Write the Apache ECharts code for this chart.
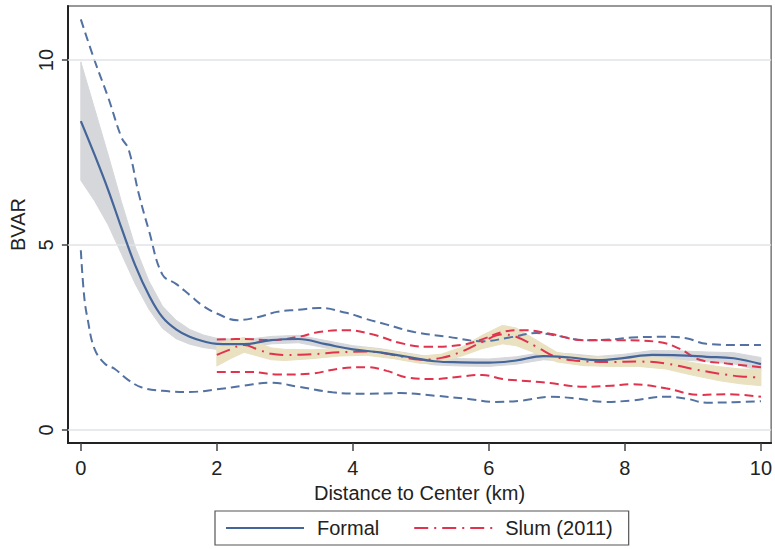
<!DOCTYPE html>
<html>
<head>
<meta charset="utf-8">
<script src="https://cdn.jsdelivr.net/npm/echarts@6.0.0/dist/echarts.min.js"></script>
<style>
  html, body { margin: 0; padding: 0; background: #fff; }
  #chart { width: 775px; height: 549px; }
</style>
</head>
<body>
<div id="chart"></div>
<script>
"use strict";

// Formal: mean curve + confidence band (same x grid)
const formalX    = [0, 0.2, 0.4, 0.6, 0.8, 1.0, 1.2, 1.4, 1.6, 1.8, 2.0, 2.4, 2.8, 3.2, 3.6, 4.0, 4.4, 4.8, 5.2, 5.6, 6.0, 6.4, 6.8, 7.2, 7.6, 8.0, 8.4, 8.8, 9.2, 9.6, 10];
const formalMean = [8.35, 7.45, 6.5, 5.45, 4.45, 3.65, 3.05, 2.72, 2.52, 2.4, 2.33, 2.32, 2.43, 2.46, 2.32, 2.18, 2.1, 1.98, 1.86, 1.83, 1.82, 1.88, 2.0, 1.96, 1.89, 1.95, 2.03, 2.02, 1.98, 1.94, 1.78];
const formalHi   = [9.95, 8.7, 7.45, 6.15, 4.95, 4.03, 3.35, 2.97, 2.72, 2.57, 2.48, 2.44, 2.53, 2.56, 2.42, 2.28, 2.2, 2.08, 1.96, 1.93, 1.92, 1.98, 2.1, 2.06, 1.99, 2.05, 2.15, 2.14, 2.11, 2.09, 1.96];
const formalLo   = [6.75, 6.2, 5.55, 4.75, 3.95, 3.27, 2.75, 2.47, 2.32, 2.23, 2.18, 2.2, 2.33, 2.36, 2.22, 2.08, 2.0, 1.88, 1.76, 1.73, 1.72, 1.78, 1.9, 1.86, 1.79, 1.85, 1.91, 1.9, 1.85, 1.79, 1.6];

// Formal: dashed upper / lower curves
const formalUpX = [0, 0.2, 0.4, 0.6, 0.7, 0.85, 1.0, 1.2, 1.4, 1.6, 1.8, 2.0, 2.3, 2.6, 2.9, 3.2, 3.5, 3.9, 4.2, 4.5, 4.9, 5.4, 5.9, 6.3, 6.7, 7.0, 7.4, 7.8, 8.1, 8.6, 8.9, 9.2, 9.6, 10];
const formalUp  = [11.1, 10.0, 9.0, 7.9, 7.6, 6.4, 5.4, 4.2, 3.95, 3.65, 3.35, 3.15, 2.97, 3.05, 3.2, 3.25, 3.3, 3.17, 3.0, 2.85, 2.65, 2.52, 2.4, 2.5, 2.62, 2.55, 2.43, 2.45, 2.5, 2.52, 2.48, 2.33, 2.3, 2.3];
const formalDnX = [0, 0.05, 0.1, 0.2, 0.35, 0.5, 0.7, 0.9, 1.2, 1.6, 2.0, 2.4, 2.8, 3.2, 3.7, 4.2, 4.7, 5.2, 5.7, 6.1, 6.5, 6.9, 7.3, 7.7, 8.1, 8.6, 8.9, 9.2, 9.6, 10];
const formalDn  = [4.86, 3.6, 3.0, 2.2, 1.8, 1.65, 1.35, 1.15, 1.06, 1.03, 1.1, 1.2, 1.28, 1.17, 1.02, 0.98, 1.0, 0.93, 0.84, 0.76, 0.8, 0.9, 0.85, 0.76, 0.8, 0.9, 0.85, 0.74, 0.75, 0.78];

// Slum (2011): mean curve + confidence band
const slumX    = [2.0, 2.2, 2.4, 2.6, 2.8, 3.0, 3.4, 3.8, 4.2, 4.6, 5.0, 5.3, 5.6, 5.9, 6.2, 6.4, 6.7, 7.0, 7.4, 7.8, 8.2, 8.6, 9.0, 9.4, 9.7, 10];
const slumMean = [2.03, 2.18, 2.3, 2.18, 2.06, 2.03, 2.05, 2.1, 2.12, 2.03, 1.9, 1.95, 2.12, 2.38, 2.58, 2.52, 2.25, 1.97, 1.86, 1.84, 1.85, 1.8, 1.65, 1.52, 1.45, 1.42];
const slumHi   = [2.33, 2.43, 2.5, 2.36, 2.22, 2.18, 2.17, 2.2, 2.22, 2.13, 2.0, 2.05, 2.24, 2.56, 2.83, 2.76, 2.43, 2.1, 1.98, 1.96, 1.98, 1.95, 1.82, 1.71, 1.65, 1.64];
const slumLo   = [1.73, 1.93, 2.1, 2.0, 1.9, 1.88, 1.93, 2.0, 2.02, 1.93, 1.8, 1.85, 2.0, 2.2, 2.33, 2.28, 2.07, 1.84, 1.74, 1.72, 1.72, 1.65, 1.48, 1.33, 1.25, 1.2];

// Slum (2011): dashed upper / lower curves
const slumUpX = [2.0, 2.4, 2.8, 3.2, 3.5, 3.9, 4.3, 4.7, 5.1, 5.6, 5.9, 6.2, 6.5, 6.9, 7.4, 7.9, 8.5, 8.8, 9.1, 9.5, 10];
const slumUp  = [2.45, 2.46, 2.43, 2.52, 2.65, 2.7, 2.58, 2.35, 2.25, 2.3, 2.45, 2.65, 2.7, 2.6, 2.43, 2.43, 2.38, 2.2, 1.9, 1.8, 1.7];
const slumDnX = [2.0, 2.5, 2.9, 3.4, 3.8, 4.2, 4.5, 4.8, 5.2, 5.6, 5.9, 6.2, 6.6, 6.9, 7.4, 7.8, 8.1, 8.6, 9.1, 9.5, 10];
const slumDn  = [1.57, 1.57, 1.5, 1.53, 1.66, 1.7, 1.6, 1.42, 1.38, 1.45, 1.49, 1.38, 1.32, 1.27, 1.17, 1.2, 1.24, 1.13, 0.95, 0.97, 0.9];

// Axis ticks
const xTicks = [0, 2, 4, 6, 8, 10];
const yTicks = [0, 5, 10];

const BLUE = "#43659a";
const BLUE_DASH = "#5372a2";
const RED = "#e0334d";
const FONT = "'Liberation Sans Narrow', 'Liberation Sans', Arial, sans-serif";

const pairs = (xs, ys) => xs.map((x, i) => [x, ys[i]]);

// confidence band as one polygon: upper edge left→right, lower edge back
const band = (name, xs, lo, hi, color) => ({
  name, type: "custom", silent: true, z: 1, clip: true,
  data: xs.map((x, i) => [x, lo[i], hi[i]]),
  encode: { x: 0, y: [1, 2] },
  renderItem(params, api) {
    if (params.dataIndex !== 0) return null;
    const top = xs.map((x, i) => api.coord([x, hi[i]]));
    const bot = xs.map((x, i) => api.coord([x, lo[i]])).reverse();
    return {
      type: "polygon",
      shape: { points: top.concat(bot) },
      style: { fill: color, stroke: color, lineWidth: 1 },
    };
  },
});

const dashed = (name, xs, ys, color) => ({
  name, type: "line", symbol: "none", smooth: 0.4, silent: true,
  data: pairs(xs, ys), z: 3,
  lineStyle: { color, width: 2, type: [9, 5] },
});

const chart = echarts.init(document.getElementById("chart"), null, { renderer: "svg" });

chart.setOption({
  animation: false,
  backgroundColor: "#fff",
  textStyle: { fontFamily: FONT },
  grid: {
    left: 63, right: 2, top: 6, bottom: 106,
    show: true, borderColor: "#777", borderWidth: 1.5,
  },
  legend: {
    data: ["Formal", "Slum (2011)"],
    left: 215, top: 511,
    padding: [7, 16, 7, 10],
    itemWidth: 78, itemHeight: 14, itemGap: 34,
    itemStyle: { opacity: 0 },
    borderColor: "#555", borderWidth: 1.2,
    textStyle: { fontSize: 20, color: "#222", fontFamily: FONT, padding: [0, 0, 0, 8] },
  },
  xAxis: {
    type: "value", min: -0.19, max: 10.15,
    name: "Distance to Center (km)",
    nameLocation: "middle", nameGap: 34,
    nameTextStyle: { fontSize: 20, color: "#222" },
    axisLine: { onZero: false, lineStyle: { color: "#222", width: 2 } },
    axisTick: { customValues: xTicks, length: 8, lineStyle: { color: "#444", width: 1.5 } },
    axisLabel: { customValues: xTicks, margin: 15, fontSize: 20, color: "#222" },
    splitLine: { show: false },
  },
  yAxis: {
    type: "value", min: -0.35, max: 11.46,
    name: "BVAR",
    nameLocation: "middle", nameGap: 38,
    nameTextStyle: { fontSize: 20, color: "#222" },
    axisLine: { onZero: false, lineStyle: { color: "#222", width: 2 } },
    axisTick: { customValues: yTicks, length: 6, lineStyle: { color: "#444", width: 1.5 } },
    axisLabel: { customValues: yTicks, rotate: 90, margin: 12, fontSize: 20, color: "#222" },
    splitLine: { show: false },
  },
  series: [
    band("formalBand", formalX, formalLo, formalHi, "#d6d7da"),
    band("slumBand", slumX, slumLo, slumHi, "#e9e1c0"),
    {
      name: "grid", type: "line", data: [], silent: true,
      markLine: {
        symbol: "none", silent: true, label: { show: false },
        lineStyle: { color: "#dfe5e8", width: 1.5, type: "solid" },
        data: yTicks.map((v) => ({ yAxis: v })),
      },
      z: 0,
    },
    dashed("formalUp", formalUpX, formalUp, BLUE_DASH),
    dashed("formalDn", formalDnX, formalDn, BLUE_DASH),
    dashed("slumUp", slumUpX, slumUp, RED),
    dashed("slumDn", slumDnX, slumDn, RED),
    {
      name: "Slum (2011)", type: "line", symbol: "none", smooth: 0.4,
      data: pairs(slumX, slumMean), z: 4,
      itemStyle: { color: RED },
      lineStyle: { color: RED, width: 2, type: [14, 6, 2, 6] },
    },
    {
      name: "Formal", type: "line", symbol: "none", smooth: 0.4,
      data: pairs(formalX, formalMean), z: 5,
      itemStyle: { color: BLUE },
      lineStyle: { color: BLUE, width: 2.2 },
    },
  ],
});
</script>
</body>
</html>
